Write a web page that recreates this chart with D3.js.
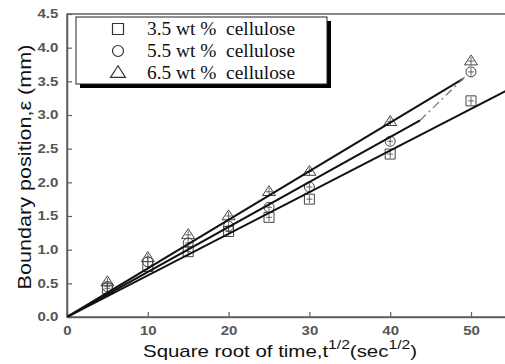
<!DOCTYPE html>
<html>
<head>
<meta charset="utf-8">
<script src="https://cdn.jsdelivr.net/npm/d3@7"></script>
<style>
  html, body { margin: 0; padding: 0; background: #fff; }
  svg { display: block; }
</style>
</head>
<body>
<script>
// root time values (sec^1/2)
const xs = [5, 10, 15, 20, 25, 30, 40, 50];

const seriesNames = ["3.5 wt %  cellulose", "5.5 wt %  cellulose", "6.5 wt %  cellulose"];
const seriesShapes = ["square", "circle", "triangle"];

const val35 = [0.42, 0.75, 0.97, 1.27, 1.48, 1.75, 2.42, 3.21];
const val55 = [0.45, 0.82, 1.10, 1.35, 1.63, 1.93, 2.61, 3.64];
const val65 = [0.52, 0.88, 1.22, 1.50, 1.86, 2.16, 2.90, 3.80];
const errs = [0.06, 0.06, 0.06, 0.06, 0.06, 0.06, 0.06, 0.06];

// fitted lines through the origin: slope and end x
const fitSlopes = [0.0618, 0.0668, 0.0722];
const fitEnds = [60, 43.7, 49];
// dash-dot connector
const dashPts = [[43.7, 2.92], [49.2, 3.56]];

const xTicks = [0, 10, 20, 30, 40, 50];
const yTicks = [0, 0.5, 1.0, 1.5, 2.0, 2.5, 3.0, 3.5, 4.0, 4.5];

const W = 505, H = 364;
const margin = { top: 14, left: 67, bottom: 47 };

const svg = d3.select("body").append("svg")
  .attr("width", W)
  .attr("height", H);

const x = d3.scaleLinear().domain([0, 55]).range([margin.left, margin.left + 55 * 8.08]);
const y = d3.scaleLinear().domain([0, 4.5]).range([H - margin.bottom, margin.top]);

const axisColor = "#606060";
const sans = "Liberation Sans, Arial, sans-serif";

// frame
svg.append("rect")
  .attr("x", x(0))
  .attr("y", y(4.5))
  .attr("width", x(55) - x(0))
  .attr("height", y(0) - y(4.5))
  .attr("fill", "none")
  .attr("stroke", axisColor)
  .attr("stroke-width", 1.5);

const xAxis = d3.axisBottom(x)
  .tickValues(xTicks)
  .tickSizeInner(-5)
  .tickSizeOuter(0)
  .tickPadding(9)
  .tickFormat(d3.format("d"));

const yAxis = d3.axisLeft(y)
  .tickValues(yTicks)
  .tickSizeInner(-5)
  .tickSizeOuter(0)
  .tickPadding(7)
  .tickFormat(d3.format(".1f"));

function styleAxis(sel) {
  sel.select(".domain").attr("stroke", axisColor).attr("stroke-width", 1.5);
  sel.selectAll(".tick line").attr("stroke", axisColor).attr("stroke-width", 1.2);
  sel.selectAll(".tick text")
    .attr("fill", "#555")
    .attr("transform", "scale(1.25,1)")
    .style("font-family", sans)
    .style("font-size", "12px")
    .style("font-weight", "bold");
}

svg.append("g")
  .attr("transform", `translate(0,${y(0)})`)
  .call(xAxis)
  .call(styleAxis);

svg.append("g")
  .attr("transform", `translate(${x(0)},0)`)
  .call(yAxis)
  .call(styleAxis);

// axis titles
const xt = svg.append("text")
  .attr("x", 280)
  .attr("y", 357)
  .attr("text-anchor", "middle")
  .attr("fill", "#111")
  .attr("textLength", 274)
  .attr("lengthAdjust", "spacingAndGlyphs")
  .style("font-family", sans)
  .style("font-size", "17px");
xt.append("tspan").text("Square root of time,t");
xt.append("tspan").attr("dy", -8).style("font-size", "13px").text("1/2");
xt.append("tspan").attr("dy", 8).text("(sec");
xt.append("tspan").attr("dy", -8).style("font-size", "13px").text("1/2");
xt.append("tspan").attr("dy", 8).text(")");

svg.append("text")
  .attr("transform", `translate(31,167) rotate(-90)`)
  .attr("text-anchor", "middle")
  .attr("fill", "#111")
  .attr("textLength", 245)
  .attr("lengthAdjust", "spacingAndGlyphs")
  .style("font-family", sans)
  .style("font-size", "18px")
  .text("Boundary position,ε (mm)");

// markers
function shapePath(shape, s) {
  if (shape === "square") return `M${-s / 2},${-s / 2}h${s}v${s}h${-s}Z`;
  if (shape === "circle") return d3.symbol(d3.symbolCircle, Math.PI * (s / 2) * (s / 2))();
  const h = s * 0.9;
  return `M0,${-h * 0.62}L${s / 2 + 1},${h * 0.38}L${-s / 2 - 1},${h * 0.38}Z`;
}

const allSeries = [val35, val55, val65];
const markerColor = "#444";

allSeries.forEach((vals, i) => {
  const g = svg.append("g");
  const pts = xs.map((d, j) => ({ x: d, v: vals[j], e: errs[j] }));
  // error bars
  g.selectAll("line.eb").data(pts).join("line")
    .attr("x1", d => x(d.x)).attr("x2", d => x(d.x))
    .attr("y1", d => y(d.v - d.e)).attr("y2", d => y(d.v + d.e))
    .attr("stroke", markerColor).attr("stroke-width", 0.8);
  g.selectAll("line.cap").data(pts).join("line")
    .attr("x1", d => x(d.x) - 3).attr("x2", d => x(d.x) + 3)
    .attr("y1", d => y(d.v)).attr("y2", d => y(d.v))
    .attr("stroke", markerColor).attr("stroke-width", 0.8);
  g.selectAll("path").data(pts).join("path")
    .attr("transform", d => `translate(${x(d.x)},${y(d.v)})`)
    .attr("d", shapePath(seriesShapes[i], seriesShapes[i] === "triangle" ? 11 : 10))
    .attr("fill", "none")
    .attr("stroke", markerColor)
    .attr("stroke-width", 1);
});

// fit lines
svg.append("clipPath").attr("id", "plotclip")
  .append("rect")
  .attr("x", x(0)).attr("y", y(4.5))
  .attr("width", x(55) - x(0)).attr("height", y(0) - y(4.5));

const lineGen = d3.line().x(d => x(d[0])).y(d => y(d[1]));
fitSlopes.forEach((k, i) => {
  svg.append("path")
    .attr("clip-path", "url(#plotclip)")
    .attr("d", lineGen([[0, 0], [fitEnds[i], k * fitEnds[i]]]))
    .attr("stroke", "#111")
    .attr("stroke-width", 2)
    .attr("fill", "none");
});

svg.append("path")
  .attr("d", lineGen(dashPts))
  .attr("stroke", "#777")
  .attr("stroke-width", 1.3)
  .attr("stroke-dasharray", "8,4,2,4")
  .attr("fill", "none");

// legend
const lg = svg.append("g");
const lx = 76, ly = 17, lw = 251, lh = 67;
lg.append("rect")
  .attr("x", lx + 4).attr("y", ly + 4)
  .attr("width", lw).attr("height", lh)
  .attr("fill", "#000");
lg.append("rect")
  .attr("x", lx).attr("y", ly)
  .attr("width", lw).attr("height", lh)
  .attr("fill", "#fff")
  .attr("stroke", "#222")
  .attr("stroke-width", 1);

seriesNames.forEach((name, i) => {
  const cy = ly + 12 + i * 22;
  lg.append("path")
    .attr("transform", `translate(118,${cy})`)
    .attr("d", shapePath(seriesShapes[i], seriesShapes[i] === "triangle" ? 13 : 11))
    .attr("fill", "none")
    .attr("stroke", "#333")
    .attr("stroke-width", 1.2);
  lg.append("text")
    .attr("x", 147)
    .attr("y", cy + 6)
    .attr("fill", "#111")
    .attr("textLength", 148)
    .attr("lengthAdjust", "spacingAndGlyphs")
    .style("font-family", "Liberation Serif, Times New Roman, serif")
    .style("font-size", "18px")
    .style("white-space", "pre")
    .attr("xml:space", "preserve")
    .text(name);
});
</script>
</body>
</html>
